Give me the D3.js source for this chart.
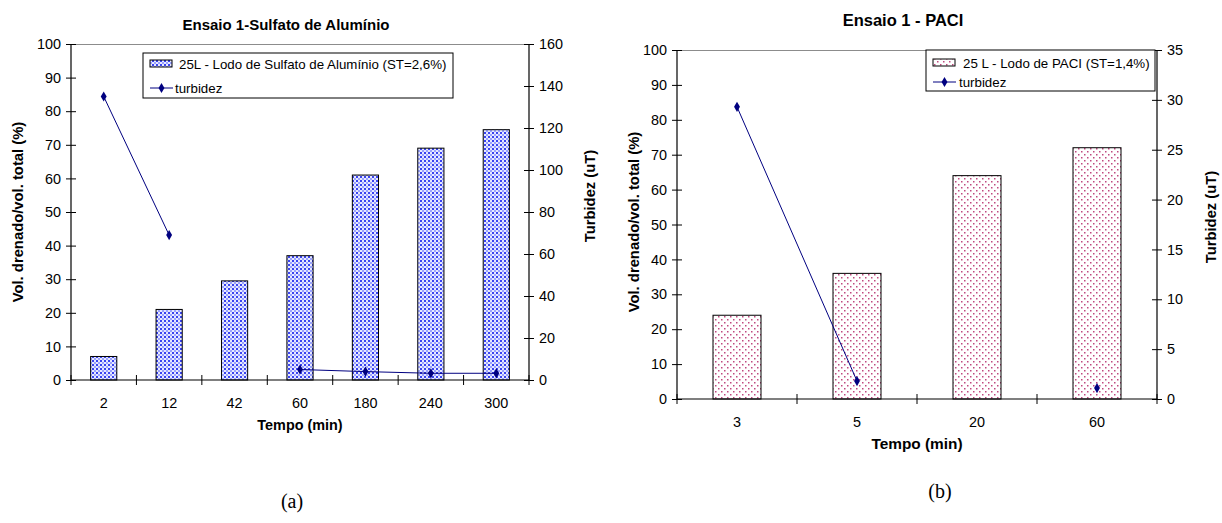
<!DOCTYPE html>
<html><head><meta charset="utf-8">
<script src="https://cdn.jsdelivr.net/npm/d3@7"></script>
<style>
body{margin:0;background:#fff;}
svg{display:block;font-family:"Liberation Sans",Arial,sans-serif;}
</style></head>
<body>
<svg id="c" width="1222" height="523"></svg>
<script>
// ---- Data (a) ----
const catsA = ["2","12","42","60","180","240","300"];
const volA = [7, 21, 29.5, 37, 61, 69, 74.5];
const turbA = [135, 69, null, 5, 4, 3.2, 3.2];
const leftTicksA = [0,10,20,30,40,50,60,70,80,90,100];
const rightTicksA = [0,20,40,60,80,100,120,140,160];
const titleA = "Ensaio 1-Sulfato de Alumínio";
const legendBarA = "25L - Lodo de Sulfato de Alumínio (ST=2,6%)";

// ---- Data (b) ----
const catsB = ["3","5","20","60"];
const volB = [24, 36, 64, 72];
const turbB = [29.3, 1.8, null, 1.1];
const leftTicksB = [0,10,20,30,40,50,60,70,80,90,100];
const rightTicksB = [0,5,10,15,20,25,30,35];
const titleB = "Ensaio 1 - PACI";
const legendBarB = "25 L - Lodo de PACI (ST=1,4%)";

const legendLine = "turbidez";
const xTitle = "Tempo (min)";
const yTitleL = "Vol. drenado/vol. total (%)";
const yTitleR = "Turbidez (uT)";

const svg = d3.select("#c");
const defs = svg.append("defs");

// pattern A: dense blue dots
const pA = defs.append("pattern").attr("id","patA").attr("patternUnits","userSpaceOnUse")
  .attr("width",4).attr("height",4);
pA.append("rect").attr("width",4).attr("height",4).attr("fill","#e6e8ff");
pA.append("rect").attr("x",0).attr("y",0).attr("width",2).attr("height",2).attr("fill","#3a44f0");
pA.append("rect").attr("x",2).attr("y",2).attr("width",2).attr("height",2).attr("fill","#9aa2ff");

// pattern B: sparse pink dots
const pB = defs.append("pattern").attr("id","patB").attr("patternUnits","userSpaceOnUse")
  .attr("width",6).attr("height",6);
pB.append("rect").attr("width",6).attr("height",6).attr("fill","#ffffff");
pB.append("rect").attr("x",1).attr("y",1).attr("width",1.5).attr("height",1.5).attr("fill","#c04a80");
pB.append("rect").attr("x",4).attr("y",4).attr("width",1.5).attr("height",1.5).attr("fill","#c04a80");

const diamond = d3.symbol().type(d3.symbolDiamond).size(30);

function drawChart(o){
  const g = svg.append("g");
  const x = d3.scaleBand().domain(o.cats).range([o.left,o.right]).paddingInner(0).paddingOuter(0);
  const yL = d3.scaleLinear().domain([0,100]).range([o.bottom,o.top]);
  const yR = d3.scaleLinear().domain([0,o.rMax]).range([o.bottom,o.top]);

  // top border
  g.append("line").attr("x1",o.left).attr("x2",o.right).attr("y1",o.top+0.5).attr("y2",o.top+0.5)
    .attr("stroke","#8c8c8c").attr("stroke-width",1);

  // bars
  const bw = x.bandwidth()*0.4;
  g.selectAll("rect.bar").data(o.cats).enter().append("rect")
    .attr("x",(d)=>x(d)+x.bandwidth()/2-bw/2)
    .attr("y",(d,i)=>yL(o.vol[i]))
    .attr("width",bw)
    .attr("height",(d,i)=>o.bottom-yL(o.vol[i]))
    .attr("fill",o.pat).attr("stroke","#000").attr("stroke-width",1);

  // left axis
  const axL = g.append("g").attr("transform",`translate(${o.left},0)`)
    .call(d3.axisLeft(yL).tickValues(o.lTicks).tickSize(5).tickPadding(5));
  axL.selectAll(".tick line").attr("x2",5).attr("x1",-5);
  // right axis
  const axR = g.append("g").attr("transform",`translate(${o.right},0)`)
    .call(d3.axisRight(yR).tickValues(o.rTicks).tickSize(5).tickPadding(5));
  axR.selectAll(".tick line").attr("x1",-5).attr("x2",5);
  // x axis: ticks at band boundaries
  const axX = g.append("g").attr("transform",`translate(0,${o.bottom})`)
    .call(d3.axisBottom(x).tickSize(0).tickPadding(18));
  const bounds = o.cats.map(c=>x(c)).concat([o.right]);
  axX.selectAll("line.bnd").data(bounds).enter().append("line")
    .attr("x1",d=>d).attr("x2",d=>d).attr("y1",-5).attr("y2",5).attr("stroke","#000");
  [axL,axR,axX].forEach(a=>{
    a.select(".domain").attr("stroke","#000").attr("stroke-width",1.2);
    a.selectAll(".tick line").attr("stroke","#000");
    a.selectAll("text").attr("font-size",14.4).attr("fill","#000")
      .attr("font-family","'Liberation Sans',Arial,sans-serif");
  });
  axL.select(".domain").attr("d",`M0,${o.top}V${o.bottom}`);
  axR.select(".domain").attr("d",`M0,${o.top}V${o.bottom}`);
  axX.select(".domain").attr("d",`M${o.left},0H${o.right}`);

  // turbidity line
  const line = d3.line().defined(d=>d.v!==null)
    .x(d=>x(d.c)+x.bandwidth()/2).y(d=>yR(d.v));
  const pts = o.cats.map((c,i)=>({c:c,v:o.turb[i]}));
  g.append("path").datum(pts).attr("d",line).attr("fill","none").attr("stroke","#000080").attr("stroke-width",1);
  g.selectAll("path.mk").data(pts.filter(d=>d.v!==null)).enter().append("path")
    .attr("d",diamond).attr("fill","#000080")
    .attr("transform",d=>`translate(${x(d.c)+x.bandwidth()/2},${yR(d.v)})`);

  // titles
  g.append("text").attr("x",o.titleX).attr("y",o.titleY).attr("text-anchor","middle")
    .attr("font-weight","bold").attr("font-size",o.titleFs).text(o.title);
  g.append("text").attr("x",(o.left+o.right)/2).attr("y",o.bottom+50).attr("text-anchor","middle")
    .attr("font-weight","bold").attr("font-size",o.xtFs).text(xTitle);
  g.append("text").attr("transform",`translate(${o.ylX},${o.ylY}) rotate(-90)`).attr("text-anchor","middle")
    .attr("font-weight","bold").attr("font-size",14.8).attr("dy","0.35em").text(yTitleL);
  g.append("text").attr("transform",`translate(${o.yrX},${o.yrY}) rotate(-90)`).attr("text-anchor","middle")
    .attr("font-weight","bold").attr("font-size",14.8).attr("dy","0.35em").text(yTitleR);

  // legend
  const L = o.leg;
  g.append("rect").attr("x",L.x).attr("y",L.y).attr("width",L.w).attr("height",L.h)
    .attr("fill","#fff").attr("stroke","#000").attr("stroke-width",1);
  g.append("rect").attr("x",L.x+7).attr("y",L.y+L.sy).attr("width",22).attr("height",7)
    .attr("fill",o.pat).attr("stroke","#000").attr("stroke-width",1);
  g.append("text").attr("x",L.x+L.t1).attr("y",L.y+L.tb).attr("font-size",L.fs).text(o.legBar);
  g.append("line").attr("x1",L.x+7).attr("x2",L.x+30).attr("y1",L.y+L.ly).attr("y2",L.y+L.ly)
    .attr("stroke","#000080").attr("stroke-width",1);
  g.append("path").attr("d",diamond).attr("fill","#000080").attr("transform",`translate(${L.x+18.5},${L.y+L.ly})`);
  g.append("text").attr("x",L.x+L.t2).attr("y",L.y+L.ly+5).attr("font-size",L.fs).text(legendLine);

  g.append("text").attr("x",o.capX).attr("y",o.capY).attr("text-anchor","middle")
    .attr("font-family","'Liberation Serif','Times New Roman',serif").attr("font-size",20).text(o.cap);
}

drawChart({cats:catsA, vol:volA, turb:turbA, lTicks:leftTicksA, rTicks:rightTicksA, rMax:160,
  left:71, right:529, top:44, bottom:380, pat:"url(#patA)", title:titleA, titleX:286, titleY:30, titleFs:15,
  xtFs:14.4, ylX:18, ylY:212, yrX:590, yrY:196, legBar:legendBarA,
  leg:{x:143,y:53,w:310,h:45,t1:36,t2:32,sy:7,tb:16,ly:35,fs:13.3}, cap:"(a)", capX:292, capY:508});

drawChart({cats:catsB, vol:volB, turb:turbB, lTicks:leftTicksB, rTicks:rightTicksB, rMax:35,
  left:677, right:1157, top:50, bottom:399, pat:"url(#patB)", title:titleB, titleX:903, titleY:26, titleFs:16.5,
  xtFs:15.4, ylX:634, ylY:222, yrX:1211, yrY:217, legBar:legendBarB,
  leg:{x:926,y:50,w:229,h:41,t1:37,t2:33,sy:9,tb:17.5,ly:32,fs:13.3}, cap:"(b)", capX:940, capY:498});
</script>
</body></html>
